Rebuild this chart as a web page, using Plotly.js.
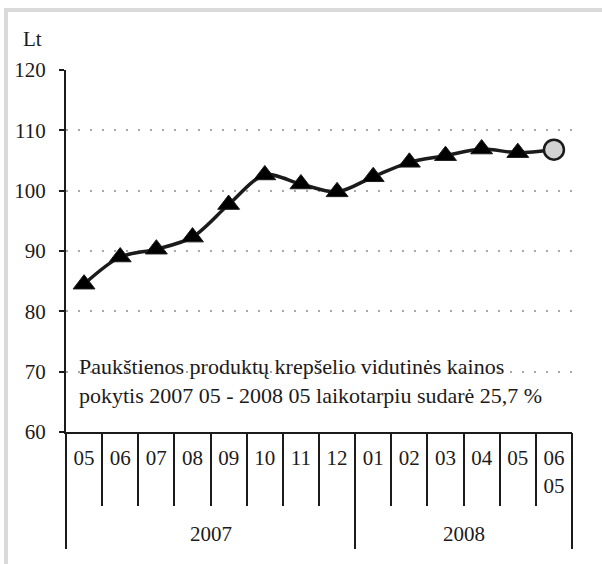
<!DOCTYPE html>
<html><head><meta charset="utf-8">
<script src="https://cdn.plot.ly/plotly-3.0.1.min.js"></script>
<style>
html,body{margin:0;padding:0;background:#fff;overflow:hidden;}
#wrap{position:relative;width:602px;height:564px;}
#chart{position:absolute;left:0;top:0;width:602px;height:564px;}
#frame{position:absolute;left:4px;top:8px;right:-10px;bottom:-10px;border-left:4px solid #dadada;border-top:4px solid #dadada;pointer-events:none;}
</style></head>
<body><div id="wrap"><div id="chart"></div><div id="frame"></div></div>
<script>
// ---- data ----
const periods = ["2007 05","2007 06","2007 07","2007 08","2007 09","2007 10","2007 11","2007 12",
                 "2008 01","2008 02","2008 03","2008 04","2008 05","2008 06 05"];
const years = ["2007","2007","2007","2007","2007","2007","2007","2007",
               "2008","2008","2008","2008","2008","2008"];
const monthLabels = ["05","06","07","08","09","10","11","12","01","02","03","04","05","06<br>05"];
const prices = [84.5, 89.0, 90.3, 92.3, 97.7, 102.6, 101.1, 99.8, 102.3, 104.7, 105.8, 106.9, 106.3, 106.8];
const yTicks = [60, 70, 80, 90, 100, 110, 120];
const unitLabel = "Lt";
const noteText = "Paukštienos produktų krepšelio vidutinės kainos<br>pokytis 2007 05 - 2008 05 laikotarpiu sudarė 25,7 %";

// ---- derived ----
const n = periods.length;
const last = n - 1;
const symbols = prices.map((v, i) => i === last ? "circle" : "triangle-up");
const mColors = prices.map((v, i) => i === last ? "#d2d2d2" : "#000000");
const mSizes = prices.map((v, i) => i === last ? 20 : 19);
const mLineW = prices.map((v, i) => i === last ? 2.5 : 1);

// year groups -> boundaries and midpoints
const groups = [];
years.forEach((y, i) => {
  if (!groups.length || groups[groups.length - 1].name !== y) groups.push({name: y, start: i, end: i});
  else groups[groups.length - 1].end = i;
});
const groupBounds = groups.map(g => g.start - 0.5).concat([groups[groups.length - 1].end + 0.5]);

const FONT = "Liberation Serif, Times New Roman, serif";
const INK = "#1c1a1a";
const FS = 21;

const traces = [
  {
    x: periods, y: prices, type: "scatter", mode: "lines+markers",
    line: {color: INK, width: 3.5, shape: "spline", smoothing: 0.9},
    marker: {symbol: symbols, color: mColors, size: mSizes, opacity: 1,
             line: {color: INK, width: mLineW}},
    hoverinfo: "x+y", showlegend: false
  },
  {
    x: [groupBounds[0], groupBounds[groupBounds.length - 1]], y: [null, null],
    xaxis: "x2", yaxis: "y", mode: "lines", showlegend: false, hoverinfo: "skip"
  }
];

const annotations = groups.map(g => ({
  text: g.name, x: (g.start + g.end) / 2, xref: "x2", y: 0, yref: "paper",
  xanchor: "center", yanchor: "middle", yshift: -102, showarrow: false,
  font: {family: FONT, size: FS, color: INK}
}));
annotations.push({
  text: unitLabel, x: 0, xref: "paper", xanchor: "left", xshift: -45,
  y: 1, yref: "paper", yanchor: "middle", yshift: 31, showarrow: false,
  font: {family: FONT, size: FS, color: INK}
});
annotations.push({
  text: noteText, align: "left", x: 0, xref: "paper", xanchor: "left", xshift: 11,
  y: 0.22, yref: "paper", yanchor: "top", showarrow: false,
  font: {family: FONT, size: 22, color: INK}
});

const layout = {
  width: 602, height: 564,
  margin: {l: 66, r: 30, t: 70, b: 132},
  paper_bgcolor: "#fff", plot_bgcolor: "#fff",
  showlegend: false,
  font: {family: FONT, size: FS, color: INK},
  xaxis: {
    type: "category", categoryarray: periods, categoryorder: "array",
    range: [-0.5, n - 0.5], tickmode: "array", tickvals: periods, ticktext: monthLabels,
    ticks: "", showline: true, linecolor: INK, linewidth: 2, showgrid: false, zeroline: false,
    ticklabelstandoff: 6,
    tickfont: {family: FONT, size: FS, color: INK}, fixedrange: true
  },
  xaxis2: {
    type: "linear", overlaying: "x", anchor: "y", side: "bottom",
    range: [-0.5, n - 0.5], tickmode: "array", tickvals: groupBounds,
    ticks: "outside", ticklen: 116, tickwidth: 2, tickcolor: INK,
    showticklabels: false, showgrid: false, showline: false, zeroline: false,
    minor: {ticks: "outside", ticklen: 73, tickwidth: 2, tickcolor: INK,
            tickmode: "linear", tick0: -0.5, dtick: 1, showgrid: false},
    fixedrange: true
  },
  yaxis: {
    range: [yTicks[0], yTicks[yTicks.length - 1]], tickmode: "array", tickvals: yTicks,
    ticks: "outside", ticklen: 5, tickwidth: 2, tickcolor: INK,
    showline: true, linecolor: INK, linewidth: 2, zeroline: false,
    showgrid: true, gridcolor: "#a8a8a8", gridwidth: 2, griddash: "2px,10px",
    ticklabelstandoff: 9,
    tickfont: {family: FONT, size: FS, color: INK}, fixedrange: true
  },
  annotations: annotations
};

Plotly.newPlot("chart", traces, layout, {displayModeBar: false, staticPlot: true});
</script>
</body></html>
